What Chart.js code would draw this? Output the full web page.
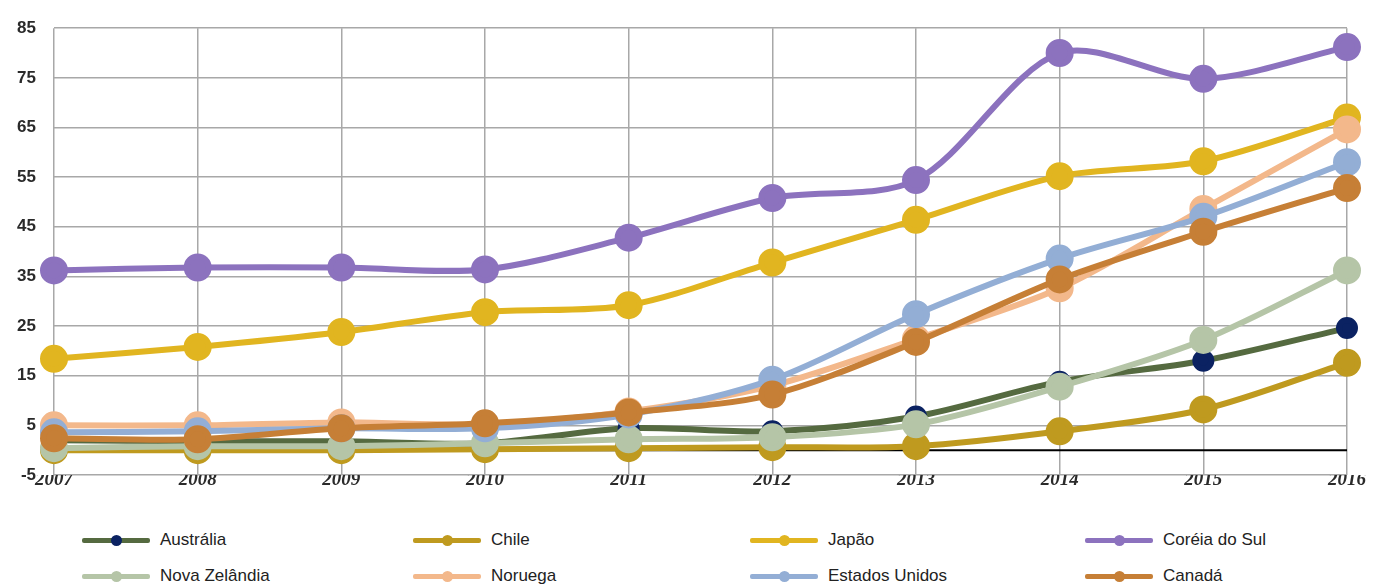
<!DOCTYPE html>
<html>
<head>
<meta charset="utf-8">
<script src="https://cdn.jsdelivr.net/npm/chart.js@4/dist/chart.umd.min.js"></script>
<style>
  body { margin: 0; background: #fff; }
  #wrap { position: relative; width: 1384px; height: 587px; }
  #chartBox { position: absolute; left: 0; top: 0; width: 1384px; height: 510px; }
  .leg { position: absolute; display: flex; align-items: center; font-family: "Liberation Sans", Arial, sans-serif; font-size: 17px; color: #222; }
  .leg .sample { position: relative; width: 68px; height: 5px; border-radius: 2px; margin-right: 10px; }
  .leg .dot { position: absolute; left: 29px; top: -3px; width: 11px; height: 11px; border-radius: 50%; }
</style>
</head>
<body>
<div id="wrap">
  <div id="chartBox"><canvas id="lineChart"></canvas></div>
</div>
<script>
// Data
const years = ['2007', '2008', '2009', '2010', '2011', '2012', '2013', '2014', '2015', '2016'];
const australia = [2, 1.8, 1.8, 1.4, 4.4, 3.8, 6.8, 13.8, 18, 24.6];
const chile = [0, 0, 0, 0.2, 0.4, 0.6, 0.8, 3.8, 8.2, 17.6];
const japao = [18.4, 20.8, 23.8, 27.8, 29.2, 37.8, 46.4, 55.2, 58.2, 67];
const coreia = [36.2, 36.8, 36.8, 36.4, 42.8, 50.8, 54.4, 80, 74.8, 81.2];
const novaZelandia = [0.4, 0.8, 0.8, 1.4, 2.2, 2.6, 5.2, 12.8, 22.2, 36.2];
const noruega = [5, 5, 5.6, 5.2, 7.8, 13, 22.4, 32.6, 48.6, 64.6];
const estadosUnidos = [3.6, 3.8, 4.4, 4.4, 7.2, 14.2, 27.4, 38.6, 47, 58];
const canada = [2.4, 2.2, 4.4, 5.4, 7.6, 11.2, 21.8, 34.4, 44, 52.8];
const yTicks = [-5, 5, 15, 25, 35, 45, 55, 65, 75, 85];

const series = [
  { name: 'Austrália', data: australia, line: '#556a40', point: '#0b2262', radius: 8 },
  { name: 'Chile', data: chile, line: '#bf9a1f', point: '#bf9a1f', radius: 11 },
  { name: 'Japão', data: japao, line: '#e1b520', point: '#e1b520', radius: 11 },
  { name: 'Coréia do Sul', data: coreia, line: '#8c72be', point: '#8c72be', radius: 11 },
  { name: 'Nova Zelândia', data: novaZelandia, line: '#b5c5a7', point: '#b5c5a7', radius: 11 },
  { name: 'Noruega', data: noruega, line: '#f3b88b', point: '#f3b88b', radius: 11 },
  { name: 'Estados Unidos', data: estadosUnidos, line: '#93aed5', point: '#93aed5', radius: 11 },
  { name: 'Canadá', data: canada, line: '#c67f36', point: '#c67f36', radius: 11 },
];

const ctx = document.getElementById('lineChart');
new Chart(ctx, {
  type: 'line',
  data: {
    labels: years,
    datasets: series.map((s, i) => ({
      label: s.name,
      data: s.data,
      borderColor: s.line,
      backgroundColor: s.point,
      pointBackgroundColor: s.point,
      pointBorderColor: s.point,
      pointRadius: s.radius,
      pointHoverRadius: s.radius,
      borderWidth: 6,
      tension: 0.3,
      fill: false,
      order: series.length - i, // later series on top
    })),
  },
  options: {
    responsive: true,
    maintainAspectRatio: false,
    animation: false,
    layout: { padding: { top: 22, right: 37, left: 0, bottom: 0 } },
    plugins: {
      legend: { display: false },
      tooltip: { enabled: false },
    },
    scales: {
      x: {
        offset: false,
        afterFit: (scale) => { scale.height = 35; },
        grid: { color: '#a8a8a8', lineWidth: 1.5, drawTicks: false },
        border: { display: false },
        ticks: {
          padding: -6,
          color: '#2a2a2a',
          font: { family: '"Liberation Serif", "DejaVu Serif", serif', size: 19, style: 'italic', weight: 'bold' },
          maxRotation: 0,
        },
      },
      y: {
        min: -5,
        max: 85,
        afterFit: (scale) => { scale.width = 54; },
        afterBuildTicks: (scale) => { scale.ticks = yTicks.map(v => ({ value: v })); },
        grid: { color: '#a8a8a8', lineWidth: 1.5, drawTicks: false },
        border: { display: false },
        ticks: {
          padding: 18,
          color: '#2a2a2a',
          font: { family: '"Liberation Sans", Arial, sans-serif', size: 17, weight: 'bold' },
        },
      },
    },
  },
  plugins: [{
    // black zero line (not a tick in this axis)
    id: 'zeroLine',
    beforeDatasetsDraw(chart) {
      const { ctx, chartArea, scales } = chart;
      const y = scales.y.getPixelForValue(0);
      ctx.save();
      ctx.strokeStyle = '#000';
      ctx.lineWidth = 2;
      ctx.beginPath();
      ctx.moveTo(chartArea.left, y);
      ctx.lineTo(chartArea.right, y);
      ctx.stroke();
      ctx.restore();
    },
  }],
});

// Legend
const legendCols = [82, 413, 750, 1085];
const legendRows = [540, 576];
const wrap = document.getElementById('wrap');
series.forEach((s, i) => {
  const el = document.createElement('div');
  el.className = 'leg';
  el.style.left = legendCols[i % 4] + 'px';
  el.style.top = (legendRows[Math.floor(i / 4)] - 10) + 'px';
  el.innerHTML = '<span class="sample" style="background:' + s.line + '"><span class="dot" style="background:' + s.point + '"></span></span>' + s.name;
  wrap.appendChild(el);
});
</script>
</body>
</html>
